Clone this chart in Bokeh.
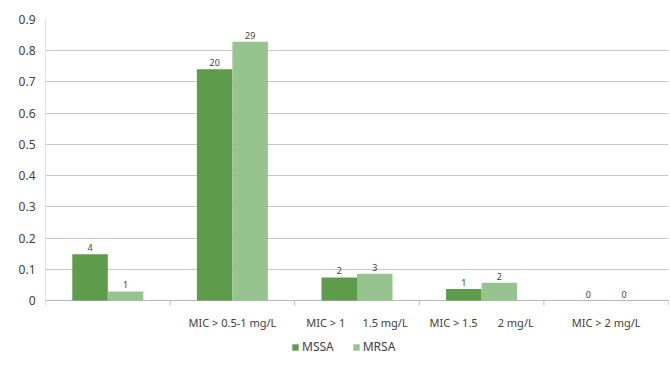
from bokeh.plotting import figure
from bokeh.models import ColumnDataSource, FixedTicker, LabelSet, Legend, LegendItem
from bokeh.core.properties import value
from bokeh.embed import file_html
from bokeh.resources import INLINE

categories = ["", "MIC > 0.5-1 mg/L", "MIC > 1\u00a0\u00a0\u00a0\u00a0\u00a0\u00a01.5 mg/L",
              "MIC > 1.5\u00a0\u00a0\u00a0\u00a0\u00a0\u00a0\u00a02 mg/L", "MIC > 2 mg/L"]
mssa = [0.148, 0.741, 0.074, 0.037, 0.0]
mrsa = [0.029, 0.829, 0.086, 0.057, 0.0]
mssa_n = ["4", "20", "2", "1", "0"]
mrsa_n = ["1", "29", "3", "2", "0"]
y_ticks = [0, 0.1, 0.2, 0.3, 0.4, 0.5, 0.6, 0.7, 0.8, 0.9]

FONT = "Noto Sans"
C1 = "#5e9b4b"
C2 = "#97c48e"
TXT = "#404040"
AX = "#b8b8b8"

n = len(categories)
centers = [i + 0.5 for i in range(n)]
bounds = list(range(n + 1))
bw = 0.285

# layout: value axis 0..0.9 spans 281 px, 67 px of room below the baseline
Y_TOP = 0.9
PX = Y_TOP / 281.0
Y_BOTTOM = -67 * PX

src1 = ColumnDataSource(dict(x=[c - bw / 2 for c in centers], top=mssa, lab=mssa_n))
src2 = ColumnDataSource(dict(x=[c + bw / 2 for c in centers], top=mrsa, lab=mrsa_n))
src_cat = ColumnDataSource(dict(x=centers, y=[0] * n, lab=categories))

p = figure(width=670, height=367, x_range=(0, n), y_range=(Y_BOTTOM, Y_TOP),
           output_backend="svg", toolbar_location=None, x_axis_location=None,
           min_border_left=45, min_border_right=2, min_border_top=19, min_border_bottom=0)
p.outline_line_color = None
p.background_fill_color = "white"
p.border_fill_color = "white"

# gridlines
p.xgrid.grid_line_color = None
p.ygrid.grid_line_color = "#c6c6c6"
p.ygrid.ticker = FixedTicker(ticks=y_ticks)

# value axis line and category baseline with boundary ticks
p.segment(x0=[0], y0=[0], x1=[0], y1=[Y_TOP], line_color="#c0c0c0", line_width=1)
p.segment(x0=[0], y0=[0], x1=[n], y1=[0], line_color=AX, line_width=1)
p.segment(x0=bounds, y0=[0] * len(bounds), x1=bounds, y1=[-5 * PX] * len(bounds),
          line_color=AX, line_width=1)

r1 = p.vbar(x="x", top="top", width=bw, source=src1, fill_color=C1, line_color=None)
r2 = p.vbar(x="x", top="top", width=bw, source=src2, fill_color=C2, line_color=None)

for s in (src1, src2):
    p.add_layout(LabelSet(x="x", y="top", text="lab", source=s, text_align="center",
                          text_baseline="bottom", y_offset=3, text_font_size="9px",
                          text_color=TXT, text_font=value(FONT)))

p.add_layout(LabelSet(x="x", y="y", text="lab", source=src_cat, text_align="center",
                      text_baseline="middle", y_offset=-22, text_font_size="11px",
                      text_color=TXT, text_font=value(FONT)))

p.yaxis.ticker = FixedTicker(ticks=y_ticks)
p.yaxis.major_label_overrides = {t: ("0" if t == 0 else f"{t:.1f}") for t in y_ticks}
p.yaxis.major_tick_line_color = None
p.yaxis.minor_tick_line_color = None
p.yaxis.axis_line_color = None
p.yaxis.major_label_text_font = FONT
p.yaxis.major_label_text_font_size = "12px"
p.yaxis.major_label_text_color = TXT
p.yaxis.major_label_standoff = 4

legend = Legend(items=[LegendItem(label="MSSA", renderers=[r1]),
                       LegendItem(label="MRSA", renderers=[r2])],
                orientation="horizontal", location=(246, 12),
                glyph_width=8, glyph_height=8, label_standoff=3, spacing=18,
                label_text_font=FONT, label_text_font_size="12px",
                label_text_color=TXT, border_line_color=None,
                background_fill_alpha=0, padding=0, margin=0, label_height=10)
p.add_layout(legend, "center")

open("out.html", "w").write(file_html(p, INLINE))
